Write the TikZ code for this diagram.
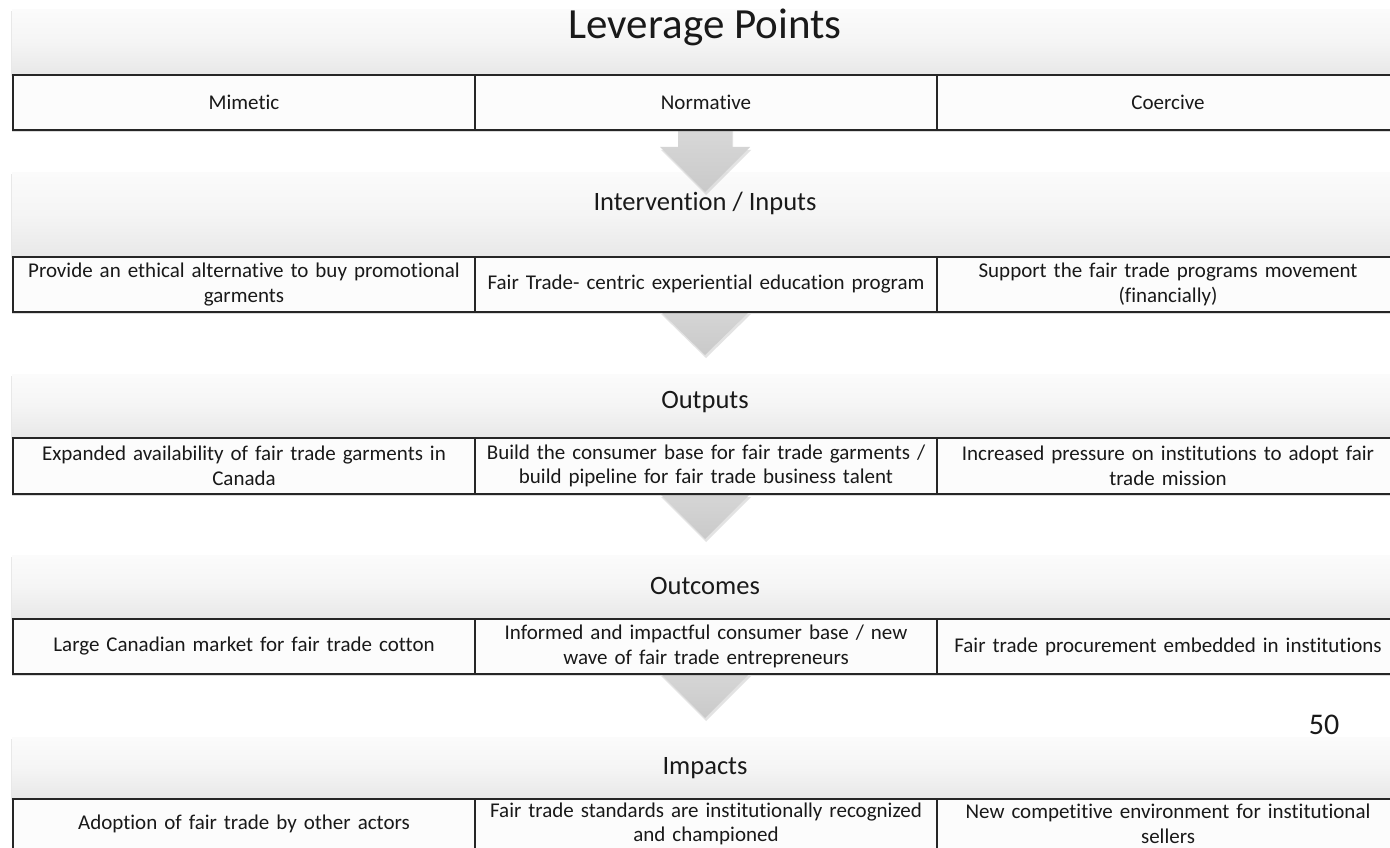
\documentclass[tikz,border=0pt]{standalone}
\usepackage{fontspec}
\setmainfont{Carlito}[Ligatures=CommonOff]
\usetikzlibrary{shadows}
\begin{document}
\begin{tikzpicture}[x=1pt,y=-1pt,
  hdr/.style={rectangle, anchor=north west, minimum width=1386pt, inner sep=0pt,
    top color=gray!3, bottom color=gray!18, middle color=gray!8,
    drop shadow={opacity=0.18, shadow xshift=-1pt, shadow yshift=-2pt}},
  hdrtext/.style={font=\fontsize{26.5}{30}\selectfont, text=black!90, inner sep=0pt},
  cell/.style={rectangle, anchor=north west, minimum width=462pt, inner sep=0pt,
    draw=black!85, line width=2pt, fill=white!98!gray, align=center,
    text width=452pt, font=\fontsize{21}{24.5}\selectfont, text=black!90},
  rowshadow/.style={drop shadow={opacity=0.28, shadow xshift=0pt, shadow yshift=-3pt}},
  blockarrow/.style={top color=gray!28, bottom color=gray!42, draw=none,
    drop shadow={opacity=0.22, shadow xshift=1pt, shadow yshift=-3pt}}
]
\useasboundingbox (0,0) rectangle (1390,848);
\fill[white] (0,0) rectangle (1390,848);

% header bands
\node[hdr, minimum height=65pt] (h1) at (12,9) {};
\node[hdr, minimum height=84pt] (h2) at (12,172) {};
\node[hdr, minimum height=63pt] (h3) at (12,374) {};
\node[hdr, minimum height=63pt] (h4) at (12,555) {};
\node[hdr, minimum height=61pt] (h5) at (12,737) {};

% header titles
\node[hdrtext, font=\fontsize{43}{47}\selectfont, anchor=base] (t1) at (705,39) {Leverage Points};
\node[hdrtext] (t2) at (705,203) {Intervention / Inputs};
\node[hdrtext] (t3) at (705,402) {Outputs};
\node[hdrtext] (t4) at (705,586) {Outcomes};
\node[hdrtext] (t5) at (705,768) {Impacts};

% block arrows
\newcommand{\blockarr}[4]{%
  \path[blockarrow] (#1-27,#2) -- (#1+27,#2) -- (#1+27,#3) -- (#1+45,#3)
    -- (#1,#4) -- (#1-45,#3) -- (#1-27,#3) -- cycle;}
\blockarr{705}{115}{147}{192}
\blockarr{705}{290}{311}{355}
\blockarr{705}{475}{494}{539}
\blockarr{705}{655}{673}{718}

% row shadows
\path[rowshadow, fill=white] (12,74) rectangle (1398,129);
\path[rowshadow, fill=white] (12,256) rectangle (1398,311);
\path[rowshadow, fill=white] (12,437) rectangle (1398,493);
\path[rowshadow, fill=white] (12,618) rectangle (1398,673);
\path[rowshadow, fill=white] (12,798) rectangle (1398,853);

% row 1
\node[cell, minimum height=55pt] (r1a) at (12,74) {Mimetic};
\node[cell, minimum height=55pt] (r1b) at (474,74) {Normative};
\node[cell, minimum height=55pt] (r1c) at (936,74) {Coercive};
% row 2
\node[cell, minimum height=55pt] (r2a) at (12,256) {Provide an ethical alternative to buy promotional\\garments};
\node[cell, minimum height=55pt] (r2b) at (474,256) {Fair Trade- centric experiential education program};
\node[cell, minimum height=55pt] (r2c) at (936,256) {Support the fair trade programs movement\\(financially)};
% row 3
\node[cell, minimum height=56pt] (r3a) at (12,437) {Expanded availability of fair trade garments in\\Canada};
\node[cell, minimum height=56pt] (r3b) at (474,437) {Build the consumer base for fair trade garments /\\build pipeline for fair trade business talent};
\node[cell, minimum height=56pt] (r3c) at (936,437) {Increased pressure on institutions to adopt fair\\trade mission};
% row 4
\node[cell, minimum height=55pt] (r4a) at (12,618) {Large Canadian market for fair trade cotton};
\node[cell, minimum height=55pt] (r4b) at (474,618) {Informed and impactful consumer base / new\\wave of fair trade entrepreneurs};
\node[cell, minimum height=55pt] (r4c) at (936,618) {Fair trade procurement embedded in institutions};
% row 5
\node[cell, minimum height=50pt] (r5a) at (12,798) {Adoption of fair trade by other actors};
\node[cell, minimum height=50pt] (r5b) at (474,798) {Fair trade standards are institutionally recognized\\and championed};
\node[cell, minimum height=50pt] (r5c) at (936,798) {New competitive environment for institutional\\sellers};

% page number
\node[font=\fontsize{30}{34}\selectfont, inner sep=0pt, text=black!90] (pg) at (1324,725) {50};
\end{tikzpicture}
\end{document}
